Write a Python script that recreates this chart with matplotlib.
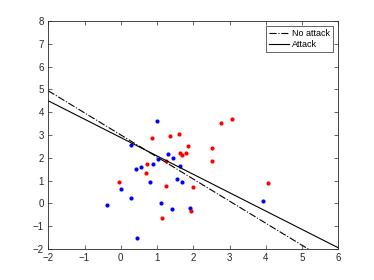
import matplotlib
matplotlib.use("Agg")
import matplotlib.pyplot as plt
import numpy as np

plt.rcParams['font.family'] = ['Liberation Sans', 'DejaVu Sans']

blue_x = [1.01, 0.27, 1.29, 1.44, 1.04, 0.89, 0.55, 0.42, 1.63, 0.81, 1.55, 1.69,
          0.00, 0.29, -0.38, 1.11, 1.40, 1.92, 0.44, 3.92]
blue_y = [3.60, 2.55, 2.16, 1.97, 1.93, 1.75, 1.60, 1.50, 1.64, 0.96, 1.09, 0.95,
          0.64, 0.25, -0.06, 0.00, -0.25, -0.20, -1.50, 0.10]

red_x = [0.86, 1.35, 1.60, 1.86, 1.63, 1.70, 1.80, 1.26, 0.71, 0.70, -0.06, 1.24,
         1.99, 1.95, 1.15, 2.52, 2.51, 4.07, 2.76, 3.07]
red_y = [2.89, 2.95, 3.04, 2.51, 2.23, 2.12, 2.22, 1.87, 1.75, 1.34, 0.96, 0.76,
         0.72, -0.32, -0.66, 2.45, 1.85, 0.91, 3.53, 3.69]

# decision boundaries: y = slope * x + intercept
no_attack_line = {"slope": -0.968, "intercept": 3.004}
attack_line = {"slope": -0.806, "intercept": 2.888}

x_ticks = [-2, -1, 0, 1, 2, 3, 4, 5, 6]
y_ticks = [-2, -1, 0, 1, 2, 3, 4, 5, 6, 7, 8]

fig = plt.figure(figsize=(3.74, 2.80), dpi=100)
ax = fig.add_axes([0.129, 0.1107, 0.7756, 0.8143])

ax.plot(blue_x, blue_y, 'o', color=(0, 0, 1), markersize=3, markeredgewidth=0)
ax.plot(red_x, red_y, 'o', color=(1, 0, 0), markersize=3, markeredgewidth=0)

xs = np.linspace(-2, 6, 200)
ax.plot(xs, no_attack_line["slope"] * xs + no_attack_line["intercept"], '-.',
        color='black', linewidth=0.8, label='No attack')
ax.plot(xs, attack_line["slope"] * xs + attack_line["intercept"], '-',
        color='black', linewidth=0.8, label='Attack')

ax.set_xlim(-2, 6)
ax.set_ylim(-2, 8)
ax.set_xticks(x_ticks)
ax.set_yticks(y_ticks)
ax.tick_params(direction='in', top=True, right=True, labelsize=7, length=3,
               width=0.5, colors=(0.15, 0.15, 0.15), pad=3)
for s in ax.spines.values():
    s.set_linewidth(0.6)
    s.set_color((0.15, 0.15, 0.15))

leg = ax.legend(loc='upper right', fontsize=6.5, fancybox=False, framealpha=1,
                edgecolor=(0.15, 0.15, 0.15), handlelength=2.2, borderpad=0.3,
                labelspacing=0.2, handletextpad=0.4, borderaxespad=0.6)
leg.get_frame().set_linewidth(0.5)

fig.savefig("out.png", dpi=100)
